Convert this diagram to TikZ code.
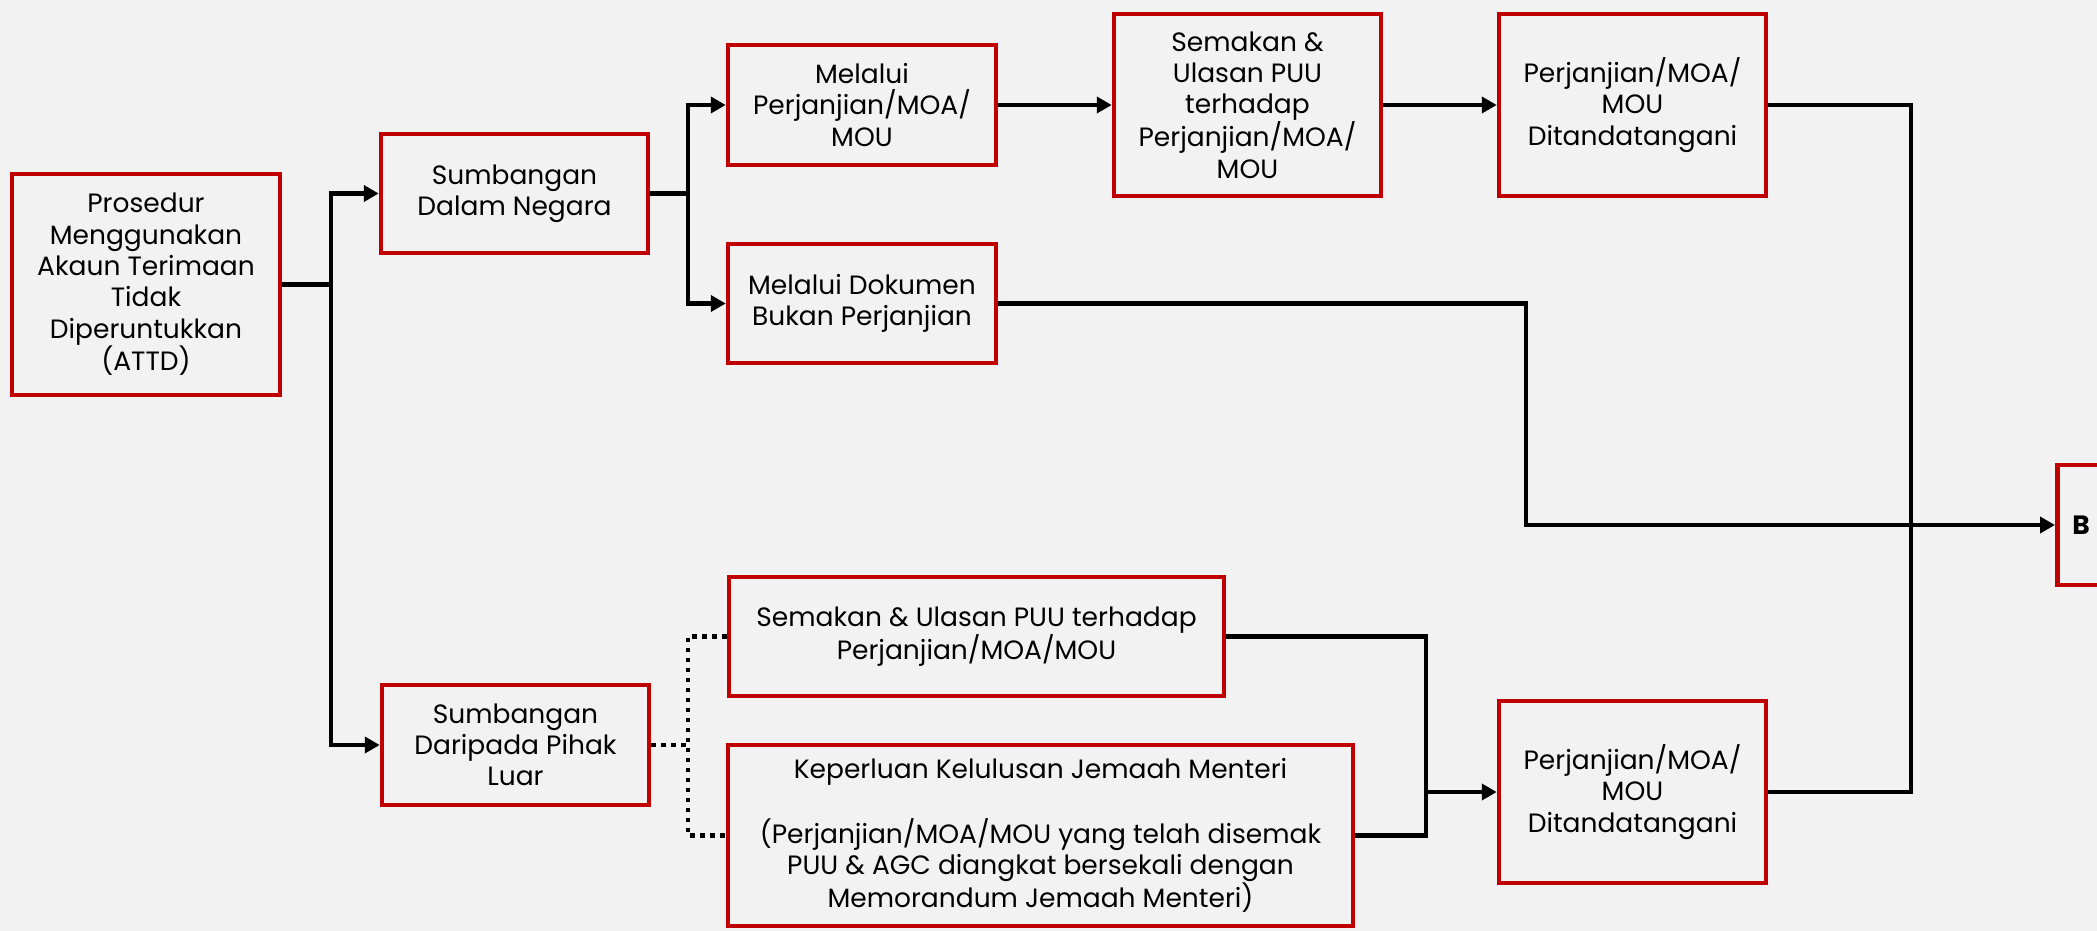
\documentclass[tikz,border=0pt]{standalone}
\usepackage{fontspec}
\setmainfont{Poppins}
\usetikzlibrary{arrows.meta}
\definecolor{bgc}{HTML}{F2F2F2}
\definecolor{redc}{HTML}{C00000}
\tikzset{
  box/.style={draw=redc, line width=4.5pt, fill=bgc, inner sep=0pt, align=center,
    font=\fontsize{26.5}{31.3}\selectfont, text=black},
  conn/.style={draw=black, line width=4.5pt},
  arr/.style={conn, -{Triangle[length=15pt,width=16pt]}},
  dotl/.style={draw=black, line width=4.5pt, dash pattern=on 4.5pt off 5.5pt}
}
\begin{document}
\begin{tikzpicture}[x=1pt,y=-1pt]
\fill[bgc] (0,0) rectangle (2097,931);
\useasboundingbox (0,0) rectangle (2097,931);

\node[box, minimum width=268pt, minimum height=221pt] (P) at (146,284.5)
  {Prosedur\\Menggunakan\\Akaun Terimaan\\Tidak\\Diperuntukkan\\(ATTD)};
\node[box, minimum width=267pt, minimum height=119pt] (SDN) at (514.5,193.5)
  {Sumbangan\\Dalam Negara};
\node[box, minimum width=267pt, minimum height=120pt] (SDP) at (515.5,745)
  {Sumbangan\\Daripada Pihak\\Luar};
\node[box, minimum width=268pt, minimum height=120pt] (MPer) at (862,105)
  {Melalui\\Perjanjian/MOA/\\MOU};
\node[box, minimum width=268pt, minimum height=119pt] (MDok) at (862,303.5)
  {Melalui Dokumen\\Bukan Perjanjian};
\node[box, minimum width=267pt, minimum height=182pt] (Sem) at (1247.5,105)
  {Semakan \&\\Ulasan PUU\\terhadap\\Perjanjian/MOA/\\MOU};
\node[box, minimum width=267pt, minimum height=182pt] (PerTop) at (1632.5,105)
  {Perjanjian/MOA/\\MOU\\Ditandatangani};
\node[box, minimum width=495pt, minimum height=119pt] (SemB) at (976.5,636.5)
  {Semakan \& Ulasan PUU terhadap\\Perjanjian/MOA/MOU};
\node[box, minimum width=625pt, minimum height=181pt] (Kep) at (1040.5,835.5)
  {Keperluan Kelulusan Jemaah Menteri\\[31.3pt](Perjanjian/MOA/MOU yang telah disemak\\PUU \& AGC diangkat bersekali dengan\\Memorandum Jemaah Menteri)};
\node[box, minimum width=267pt, minimum height=182pt] (PerBot) at (1632.5,792)
  {Perjanjian/MOA/\\MOU\\Ditandatangani};
\begin{scope}
\clip (0,0) rectangle (2097,931);
\node[box, anchor=west, minimum height=120pt, text width=250pt, align=left, inner xsep=15pt] (B) at (2055,525)
  {\textbf{B}};
\end{scope}

\coordinate (j1) at (331,0);
\coordinate (j2) at (688,0);
\coordinate (j3) at (1911,0);
\coordinate (j4) at (688,0);
\coordinate (j5) at (1526,0);
\coordinate (j6) at (1426,0);

\draw[arr] (P.east) -- (P.east -| j1) |- (SDN.west);
\draw[arr] (P.east -| j1) |- (SDP.west);
\draw[arr] (SDN.east) -- (SDN.east -| j2) |- (MPer.west);
\draw[arr] (SDN.east -| j2) |- (MDok.west);
\draw[arr] (MPer.east) -- (Sem.west);
\draw[arr] (Sem.east) -- (PerTop.west);
\draw[conn] (PerTop.east) -- (PerTop.east -| j3) |- (PerBot.east);
\draw[arr] (MDok.east) -- (MDok.east -| j5) |- (B.west);
\draw[dotl] (SDP.east) -- (SDP.east -| j4);
\draw[dotl] (SemB.west) -| (j4 |- Kep.west) -- (Kep.west);
\draw[conn] (SemB.east) -- (SemB.east -| j6) |- (Kep.east);
\draw[arr] (j6 |- PerBot.west) -- (PerBot.west);
\end{tikzpicture}
\end{document}
